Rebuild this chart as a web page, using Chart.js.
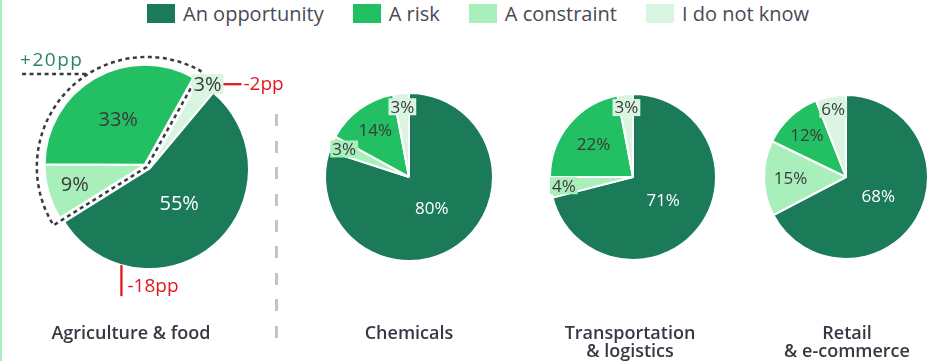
<!DOCTYPE html>
<html>
<head>
<meta charset="utf-8">
<script src="https://cdn.jsdelivr.net/npm/chart.js@4.4.1/dist/chart.umd.min.js"></script>
<style>
  body { margin: 0; width: 939px; height: 361px; position: relative; overflow: hidden; background: #fff; font-family: "Open Sans", sans-serif; }
  .edge { position: absolute; left: 0; top: 0; width: 2px; height: 361px; background: #a8efbc; }
  .legend { position: absolute; left: 147px; top: 0; height: 27px; display: flex; align-items: center; color: #4a4a55; font-size: 20px; white-space: nowrap; }
  .legend .item { display: flex; align-items: center; margin-right: 29px; }
  .legend .sw { width: 28px; height: 19px; margin-right: 8px; }
  canvas { position: absolute; }
  .sector { position: absolute; top: 323px; width: 240px; text-align: center; font-weight: 600; font-size: 18px; line-height: 18px; color: #383844; white-space: pre-line; }
  .sep { position: absolute; left: 275px; top: 114px; width: 3px; height: 224px;
         background: repeating-linear-gradient(to bottom, #c4c4c4 0 12px, transparent 12px 26.5px); }
</style>
</head>
<body>
<div class="edge"></div>
<div class="legend" id="legend"></div>
<div class="sep"></div>

<script>
// legend order
const categories = ['An opportunity', 'A risk', 'A constraint', 'I do not know'];
const colors = ['#1b7a57', '#22c063', '#a8efbc', '#d9f5e2'];
const sectors = ['Agriculture & food', 'Chemicals', 'Transportation\n& logistics', 'Retail\n& e-commerce'];

// values in legend order (%)
const agriculture = [55, 33, 9, 3];
const chemicals = [80, 14, 3, 3];
const transportation = [71, 22, 4, 3];
const retail = [68, 12, 15, 6];

// change vs. previous survey, agriculture: opportunity, risk + constraint, do not know
const agricultureChange = ['-18pp', '+20pp', '-2pp'];

// slices go clockwise: opportunity, constraint, risk, do not know
const sliceOrder = [0, 2, 1, 3];

const pies = [
  { values: agriculture, cx: 149, cy: 169, r: 100, size: 340, rotation: 40, font: 20, small: 1.03, labelX: 131,
    group: { indices: [1, 2], dist: 6 } },
  { values: chemicals, cx: 409, cy: 177, r: 84, size: 200, rotation: 0, font: 17, small: 0.84, labelX: 409 },
  { values: transportation, cx: 632.5, cy: 177, r: 83, size: 200, rotation: 0, font: 17, small: 0.84, labelX: 630 },
  { values: retail, cx: 846, cy: 177, r: 82, size: 200, rotation: 0, font: 17, small: 0.84, labelX: 847 }
];

// legend
const legend = document.getElementById('legend');
categories.forEach((c, i) => {
  const item = document.createElement('div');
  item.className = 'item';
  item.innerHTML = '<span class="sw" style="background:' + colors[i] + '"></span><span>' + c + '</span>';
  legend.appendChild(item);
});

function groupOffset(arcs, group) {
  const a0 = arcs[group.indices[0]].startAngle;
  const a1 = arcs[group.indices[group.indices.length - 1]].endAngle;
  const mid = (a0 + a1) / 2;
  return { x: Math.cos(mid) * group.dist, y: Math.sin(mid) * group.dist, a0: a0, a1: a1 };
}

// draws the pulled-out slices with a shift
const groupShift = {
  id: 'groupShift',
  beforeDatasetDraw(chart, args, opts) {
    if (!opts.group) return;
    const ctx = chart.ctx;
    const arcs = chart.getDatasetMeta(0).data;
    const g = groupOffset(arcs, opts.group);
    arcs.forEach((arc, i) => {
      ctx.save();
      if (opts.group.indices.includes(i)) ctx.translate(g.x, g.y);
      arc.draw(ctx);
      ctx.restore();
    });
    return false;
  }
};

const sliceLabels = {
  id: 'sliceLabels',
  afterDatasetsDraw(chart, args, opts) {
    const ctx = chart.ctx;
    const ds = chart.data.datasets[0];
    const arcs = chart.getDatasetMeta(0).data;
    const g = opts.group ? groupOffset(arcs, opts.group) : null;
    chart.$boxes = [];
    ctx.save();
    ctx.font = opts.size + 'px "Open Sans"';
    ctx.textAlign = 'center';
    ctx.textBaseline = 'middle';
    arcs.forEach((arc, i) => {
      const v = ds.data[i];
      const deg = (arc.endAngle - arc.startAngle) * 180 / Math.PI;
      const f = v >= 50 ? 0.46 : (v <= 6 ? opts.small : 0.8 - 0.0023 * deg);
      const mid = (arc.startAngle + arc.endAngle) / 2;
      let x = arc.x + Math.cos(mid) * f * arc.outerRadius;
      let y = arc.y + Math.sin(mid) * f * arc.outerRadius;
      if (g && opts.group.indices.includes(i)) { x += g.x; y += g.y; }
      const txt = v + '%';
      const w = ctx.measureText(txt).width + 4;
      const h = opts.size;
      if (v <= 6) {
        ctx.fillStyle = ds.backgroundColor[i];
        ctx.fillRect(x - w / 2, y - h / 2, w, h);
      }
      chart.$boxes[i] = { x: x, y: y, w: w, h: h };
      ctx.fillStyle = i === 0 ? '#ffffff' : '#3a3a3a';
      ctx.fillText(txt, x, y + 1);
    });
    ctx.restore();
  }
};

// agriculture annotations: dashed outline, +/- pp notes
const agriNotes = {
  id: 'agriNotes',
  afterDatasetsDraw(chart, args, opts) {
    const ctx = chart.ctx;
    const arcs = chart.getDatasetMeta(0).data;
    const g = groupOffset(arcs, opts.group);
    const cx = arcs[0].x + g.x / 2, cy = arcs[0].y + g.y / 2;
    const R = arcs[0].outerRadius + 10;
    ctx.save();
    ctx.setLineDash([4, 3.5]);
    ctx.lineWidth = 2.5;
    ctx.strokeStyle = '#3a3a44';
    ctx.beginPath();
    ctx.moveTo(cx, cy);
    ctx.lineTo(cx + Math.cos(g.a0) * R, cy + Math.sin(g.a0) * R);
    ctx.arc(cx, cy, R, g.a0, g.a1);
    ctx.closePath();
    ctx.stroke();
    // leader for +20pp
    const ly = cy - 93;
    const lx = cx - Math.sqrt(R * R - 93 * 93);
    ctx.beginPath();
    ctx.moveTo(lx - 66, ly);
    ctx.lineTo(lx, ly);
    ctx.stroke();
    ctx.setLineDash([]);
    ctx.fillStyle = '#2a8563';
    ctx.font = '19px "Open Sans"';
    ctx.letterSpacing = '1.5px';
    ctx.textBaseline = 'alphabetic';
    ctx.fillText(agricultureChange[1], lx - 68, ly - 8);
    ctx.restore();
  },
  afterDraw(chart) {
    const ctx = chart.ctx;
    const arcs = chart.getDatasetMeta(0).data;
    const b = chart.$boxes[3];
    ctx.save();
    ctx.strokeStyle = '#e3161f';
    ctx.fillStyle = '#e3161f';
    ctx.lineWidth = 2.3;
    ctx.font = '19px "Open Sans"';
    ctx.textBaseline = 'middle';
    // -2pp next to do-not-know label
    const x1 = b.x + b.w / 2;
    ctx.beginPath();
    ctx.moveTo(x1, b.y);
    ctx.lineTo(x1 + 18, b.y);
    ctx.stroke();
    ctx.fillText(agricultureChange[2], x1 + 20, b.y);
    // -18pp below opportunity slice
    const a = (196 - 90) * Math.PI / 180;
    const r = arcs[0].outerRadius;
    const px = arcs[0].x + Math.cos(a) * r, py = arcs[0].y + Math.sin(a) * r;
    ctx.beginPath();
    ctx.moveTo(px, py);
    ctx.lineTo(px, py + 31);
    ctx.stroke();
    ctx.textBaseline = 'alphabetic';
    ctx.fillText(agricultureChange[0], px + 6, py + 27);
    ctx.restore();
  }
};

pies.forEach((p, k) => {
  const canvas = document.createElement('canvas');
  canvas.width = p.size;
  canvas.height = p.size;
  canvas.style.left = (p.cx - p.size / 2) + 'px';
  canvas.style.top = (p.cy - p.size / 2) + 'px';
  document.body.appendChild(canvas);

  const lab = document.createElement('div');
  lab.className = 'sector';
  lab.style.left = (p.labelX - 120) + 'px';
  lab.textContent = sectors[k];
  document.body.appendChild(lab);

  new Chart(canvas, {
    type: 'pie',
    data: {
      labels: sliceOrder.map(i => categories[i]),
      datasets: [{
        data: sliceOrder.map(i => p.values[i]),
        backgroundColor: sliceOrder.map(i => colors[i]),
        borderColor: '#ffffff',
        borderWidth: 2
      }]
    },
    options: {
      responsive: false,
      animation: false,
      events: [],
      rotation: p.rotation,
      radius: p.r,
      layout: { padding: 0 },
      plugins: {
        legend: { display: false },
        tooltip: { enabled: false },
        groupShift: { group: p.group || null },
        agriNotes: { group: p.group || null },
        sliceLabels: { size: p.font, small: p.small, group: p.group || null }
      }
    },
    plugins: k === 0 ? [groupShift, agriNotes, sliceLabels] : [sliceLabels]
  });
});
</script>
</body>
</html>
